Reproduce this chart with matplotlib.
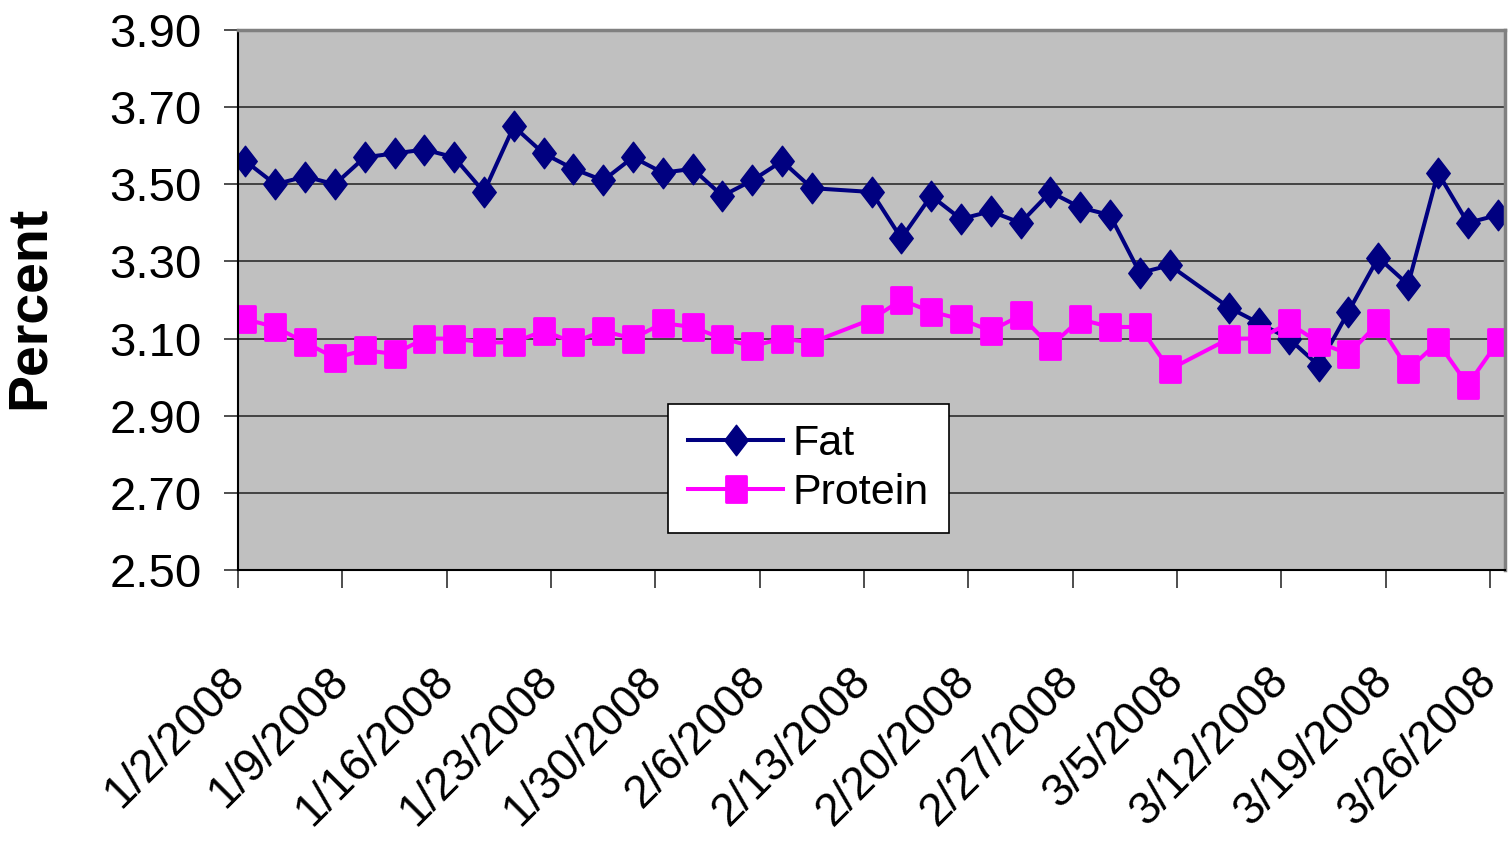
import matplotlib
matplotlib.use("Agg")
import matplotlib.pyplot as plt
import pandas as pd
from matplotlib.path import Path
from matplotlib.markers import MarkerStyle

plt.rcParams["font.family"] = ["Liberation Sans", "DejaVu Sans"]

# milk components, sampled every other day
sample_dates = [
    "2008-01-02", "2008-01-04", "2008-01-06", "2008-01-08", "2008-01-10",
    "2008-01-12", "2008-01-14", "2008-01-16", "2008-01-18", "2008-01-20",
    "2008-01-22", "2008-01-24", "2008-01-26", "2008-01-28", "2008-01-30",
    "2008-02-01", "2008-02-03", "2008-02-05", "2008-02-07", "2008-02-09",
    "2008-02-13", "2008-02-15", "2008-02-17", "2008-02-19", "2008-02-21",
    "2008-02-23", "2008-02-25", "2008-02-27", "2008-02-29", "2008-03-02",
    "2008-03-04", "2008-03-08", "2008-03-10", "2008-03-12", "2008-03-14",
    "2008-03-16", "2008-03-18", "2008-03-20", "2008-03-22", "2008-03-24",
    "2008-03-26",
]
fat = [3.56, 3.50, 3.52, 3.50, 3.57, 3.58, 3.59, 3.57, 3.48, 3.65,
       3.58, 3.54, 3.51, 3.57, 3.53, 3.54, 3.47, 3.51, 3.56, 3.49,
       3.48, 3.36, 3.47, 3.41, 3.43, 3.40, 3.48, 3.44, 3.42, 3.27,
       3.29, 3.18, 3.14, 3.10, 3.03, 3.17, 3.31, 3.24, 3.53, 3.40,
       3.42]
protein = [3.15, 3.13, 3.09, 3.05, 3.07, 3.06, 3.10, 3.10, 3.09, 3.09,
           3.12, 3.09, 3.12, 3.10, 3.14, 3.13, 3.10, 3.08, 3.10, 3.09,
           3.15, 3.20, 3.17, 3.15, 3.12, 3.16, 3.08, 3.15, 3.13, 3.13,
           3.02, 3.10, 3.10, 3.14, 3.09, 3.06, 3.14, 3.02, 3.09, 2.98,
           3.09]
week_ticks = ["2008-01-02", "2008-01-09", "2008-01-16", "2008-01-23",
              "2008-01-30", "2008-02-06", "2008-02-13", "2008-02-20",
              "2008-02-27", "2008-03-05", "2008-03-12", "2008-03-19",
              "2008-03-26"]
y_ticks = [2.50, 2.70, 2.90, 3.10, 3.30, 3.50, 3.70, 3.90]
x_range = ["2008-01-02", "2008-03-27"]

# markers are a bit taller than wide
diamond = MarkerStyle(Path([(0, 1), (0.77, 0), (0, -1), (-0.77, 0), (0, 1)], closed=True),
                      joinstyle="miter")
square = MarkerStyle(Path([(-0.78, -1), (0.78, -1), (0.78, 1), (-0.78, 1), (-0.78, -1)],
                          closed=True), joinstyle="round")

fig = plt.figure(figsize=(15.11, 8.49), dpi=100, facecolor="white")
ax = fig.add_axes([238 / 1511, 1 - 570 / 849, 1267 / 1511, 540 / 849])
ax.set_facecolor("#C0C0C0")

# each day occupies one slot on the date axis; points sit mid-slot
x = pd.to_datetime(sample_dates) + pd.Timedelta(hours=12)
ax.plot(x, fat, color="#000080", lw=2.9, marker=diamond, ms=22,
        mfc="#000080", mec="#000080", mew=1, label="Fat")
ax.plot(x, protein, color="#FF00FF", lw=2.9, marker=square, ms=19,
        mfc="#FF00FF", mec="#FF00FF", mew=2, label="Protein")

ax.set_xlim(pd.to_datetime(x_range[0]), pd.to_datetime(x_range[1]))
ax.set_ylim(y_ticks[0], y_ticks[-1])

ticks = pd.to_datetime(week_ticks)
ax.set_xticks(ticks)
ax.set_xticklabels([f"{d.month}/{d.day}/{d.year}" for d in ticks],
                   rotation=45, ha="right", va="center", rotation_mode="anchor",
                   fontsize=33)
ax.set_yticks(y_ticks)
ax.set_yticklabels([f"{v:.2f}" for v in y_ticks], fontsize=34)

ax.tick_params(axis="x", length=13, width=1.2, color="#303030", pad=62)
ax.tick_params(axis="y", length=10, width=1.2, color="#303030", pad=16)

ax.grid(axis="y", color="#202020", lw=1.1)
ax.set_axisbelow(True)

for side in ("left", "bottom"):
    ax.spines[side].set_color("black")
    ax.spines[side].set_linewidth(1.5)
for side in ("top", "right"):
    ax.spines[side].set_color("#808080")
    ax.spines[side].set_linewidth(2.5)

fig.text(30 / 1511, 1 - 307 / 849, "Percent", rotation=90, ha="center",
         va="center", fontsize=40, fontweight="bold")

leg = ax.legend(loc="upper left", bbox_to_anchor=(0.3394, 0.307),
                borderaxespad=0, fontsize=31, handlelength=2.2,
                handletextpad=0.23, labelspacing=0.2, borderpad=0.47,
                fancybox=False, framealpha=1, numpoints=1)
leg.get_frame().set_edgecolor("black")
leg.get_frame().set_linewidth(1.2)

fig.savefig("out.png", dpi=100, facecolor="white")
